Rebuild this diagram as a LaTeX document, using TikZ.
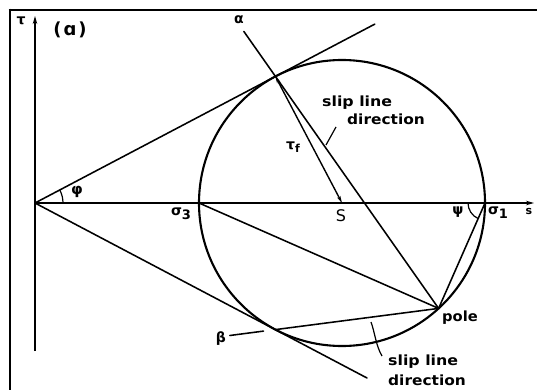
\documentclass[tikz,border=0pt]{standalone}
\usepackage{fontspec}
\setmainfont{DejaVu Sans}
\usetikzlibrary{arrows.meta,calc}
\begin{document}
\begin{tikzpicture}[x=1pt,y=-1pt,
  ln/.style={line width=1.55pt, line cap=round},
  axis/.style={line width=1.5pt, -{Stealth[length=8pt,width=4.5pt]}},
  lbl/.style={inner sep=0pt, font=\bfseries\fontsize{13}{13}\selectfont},
  bl/.style={inner sep=0pt, anchor=west, font=\bfseries\fontsize{14}{16}\selectfont},
]
\useasboundingbox (0,0) rectangle (537,390);
\fill[white] (0,0) rectangle (537,390);
% frame (top and left edges)
\draw[line width=2.6pt] (8.7,10) -- (537,10);
\draw[line width=2.6pt] (10,8.7) -- (10,390);
% key points
\coordinate (O) at (35,203);
\coordinate (C) at (342,203);
\coordinate (tauTop) at (35,16);
\coordinate (tauBot) at (35,351);
\coordinate (sEnd) at (534,203);
\coordinate (T1) at (275.4,76.4);
\coordinate (T2) at (275.4,329.6);
\coordinate (U) at (374.8,24.1);
\coordinate (L) at (367,378);
\coordinate (P) at (438.6,308.4);
\coordinate (s3) at (199,203);
\coordinate (s1) at (485,203);
\coordinate (A) at (243.8,31.4);
\coordinate (B1) at (263.5,331.1);
\coordinate (B2) at (229.8,335.5);
% axes
\draw[axis] (tauBot) -- (tauTop);
\draw[axis] (O) -- (sEnd);
% circle
\draw[line width=2.1pt] (C) circle[radius=143];
% tangents
\draw[ln] (O) -- (U);
\draw[ln] (O) -- (L);
% chords from pole
\draw[ln] (P) -- (A);
\draw[ln] (P) -- (s3);
\draw[ln] (P) -- (s1);
\draw[ln] (P) -- (T2);
\draw[ln] (B1) -- (B2);
% tau_f arrow
\draw[line width=1.4pt, {Stealth[length=7pt,width=3.5pt]}-{Stealth[length=7pt,width=3.5pt]}] (T1) -- (C);
% angle arcs
\draw[line width=1.2pt] ($(O)+(28,0)$) arc[start angle=0, end angle=-27.76, radius=28];
\draw[line width=1.2pt] ($(s1)+(-17,0)$) arc[start angle=180, end angle=113.8, radius=17];
% leaders
\coordinate (lu1) at (336,127);
\coordinate (lu2) at (326,145);
\draw[line width=1.2pt] (lu1) -- (lu2);
\coordinate (ll1) at (371,322);
\coordinate (ll2) at (382,356);
\draw[line width=1.2pt] (ll1) .. controls (375,333) and (376,346) .. (ll2);
% labels
\node[lbl, font=\bfseries\fontsize{14}{14}\selectfont] (ltau) at (21,21) {τ};
\node[inner sep=0pt, font=\bfseries\fontsize{18}{18}\selectfont] (la) at (70,30) {(\hspace{2pt}ɑ\hspace{2pt})};
\node[lbl, font=\bfseries\fontsize{15}{15}\selectfont] (lphi) at (77,192) {φ};
\node[lbl, font=\bfseries\fontsize{14}{14}\selectfont] (ls3) at (181,214) {σ\raisebox{-4pt}{\fontsize{13}{13}\selectfont 3}};
\node[lbl, font=\bfseries\fontsize{14}{14}\selectfont] (ls1) at (498,213) {σ\raisebox{-4pt}{\fontsize{13}{13}\selectfont 1}};
\node[lbl, font=\fontsize{16}{16}\selectfont] (lS) at (341,216) {S};
\node[lbl, font=\bfseries\fontsize{11}{11}\selectfont] (ls) at (529,211) {s};
\node[lbl, font=\bfseries\fontsize{14}{14}\selectfont] (lpsi) at (458,212) {ψ};
\node[lbl, font=\bfseries\fontsize{14}{14}\selectfont] (lal) at (239,20) {α};
\node[lbl, font=\bfseries\fontsize{14}{14}\selectfont] (lbe) at (221,339) {β};
\node[lbl, font=\bfseries\fontsize{14}{14}\selectfont] (ltf) at (293,147) {τ\raisebox{-3pt}{\fontsize{11}{11}\selectfont f}};
\node[bl] (pole) at (442,318) {\scalebox{1.05}[1]{pole}};
\node[bl] (su1) at (322,103) {\scalebox{1.13}[1]{slip line}};
\node[bl] (su2) at (347,119) {\scalebox{1.1}[1]{direction}};
\node[bl] (sl1) at (388,362) {\scalebox{1.13}[1]{slip line}};
\node[bl] (sl2) at (388,380) {\scalebox{1.1}[1]{direction}};
\end{tikzpicture}
\end{document}
